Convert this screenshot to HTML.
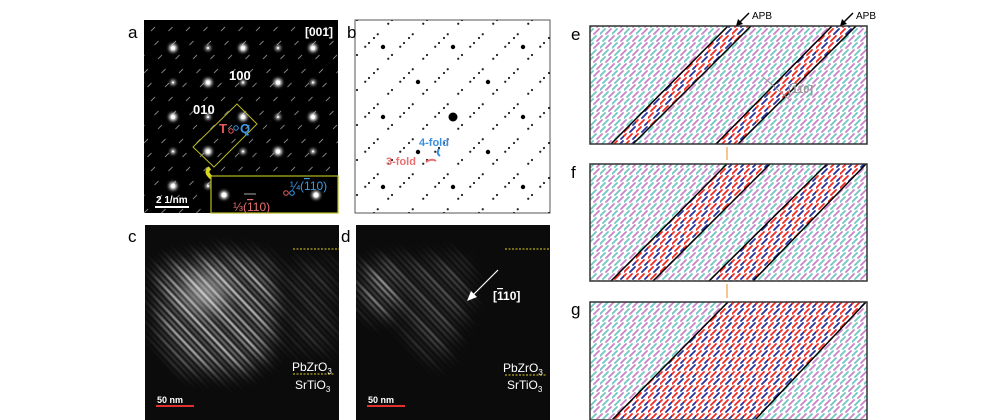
<!DOCTYPE html>
<html><head><meta charset="utf-8"><style>
html,body{margin:0;padding:0;background:#fff;width:1000px;height:420px;overflow:hidden}
svg{display:block}
text{font-family:"Liberation Sans",sans-serif}
</style></head><body>
<svg id="fig" width="1000" height="420" viewBox="0 0 1000 420">
<defs>
 <filter id="glow" x="-1" y="-1" width="3" height="3"><feGaussianBlur stdDeviation="1.6"/></filter>
 <filter id="blur1" filterUnits="userSpaceOnUse" x="0" y="0" width="1000" height="420"><feGaussianBlur stdDeviation="0.8"/></filter>
 <filter id="blur6" filterUnits="userSpaceOnUse" x="0" y="0" width="1000" height="420"><feGaussianBlur stdDeviation="10"/></filter>
 <pattern id="bgArrows" width="12" height="14" patternUnits="userSpaceOnUse">
  <g stroke-width="1.8" stroke-linecap="round">
   <line x1="0" y1="6" x2="5" y2="1" stroke="#70c8c0"/><line x1="6" y1="6" x2="11" y2="1" stroke="#c884c8"/>
   <line x1="-3" y1="13" x2="2" y2="8" stroke="#c884c8"/><line x1="3" y1="13" x2="8" y2="8" stroke="#70c8c0"/><line x1="9" y1="13" x2="14" y2="8" stroke="#c884c8"/>
  </g>
 </pattern>
 <pattern id="bandArrows" width="12" height="14" patternUnits="userSpaceOnUse">
  <g stroke-width="1.8" stroke-linecap="round">
   <line x1="0" y1="6" x2="5" y2="1" stroke="#ee2a24"/><line x1="6" y1="6" x2="11" y2="1" stroke="#28309a"/>
   <line x1="-3" y1="13" x2="2" y2="8" stroke="#ee2a24"/><line x1="3" y1="13" x2="8" y2="8" stroke="#ee2a24"/><line x1="9" y1="13" x2="14" y2="8" stroke="#28309a"/>
  </g>
 </pattern>
 <mask id="maskC" maskUnits="userSpaceOnUse" x="0" y="0" width="1000" height="420">
  <path d="M158,268 L225,255 L268,262 L280,300 L268,355 L240,372 L185,368 L160,335 Z" fill="#fff" filter="url(#blur6)"/>
  <path d="M285,265 L335,260 L335,350 L290,350 Z" fill="#444" filter="url(#blur6)"/>
 </mask>
 <mask id="maskD" maskUnits="userSpaceOnUse" x="0" y="0" width="1000" height="420">
  <path d="M362,268 L395,262 L410,300 L385,318 L362,305 Z" fill="#fff" filter="url(#blur6)"/>
  <path d="M395,262 L465,258 L470,300 L440,365 L410,340 L400,300 Z" fill="#777" filter="url(#blur6)"/>
 </mask>
 <clipPath id="clipC"><rect x="145" y="225" width="194" height="195"/></clipPath>
 <clipPath id="clipD"><rect x="356" y="225" width="194" height="195"/></clipPath>
 <clipPath id="clipA"><rect x="144" y="20" width="194" height="193"/></clipPath>
 <clipPath id="clipB"><rect x="355" y="20" width="195" height="193"/></clipPath>
</defs>

<!-- panel a -->
<g>
 <rect x="144" y="20" width="194" height="193" fill="#000"/>
 <g id="aStreaks" clip-path="url(#clipA)"></g>
 <g id="aSpots" clip-path="url(#clipA)"></g>
 <polygon points="237,104 257,124 214,167 193,147" fill="none" stroke="#b8b820" stroke-width="1"/>
 <text x="219" y="133" fill="#e85a5a" font-size="13" font-weight="bold">T</text>
 <circle cx="231" cy="131" r="2.2" fill="none" stroke="#e85a5a"/>
 <circle cx="236" cy="128" r="2.2" fill="none" stroke="#3a9ae8"/>
 <text x="240" y="133" fill="#3a9ae8" font-size="13" font-weight="bold">Q</text>
 <text x="229" y="80" fill="#fff" font-size="13" font-weight="bold">100</text>
 <text x="193" y="114" fill="#fff" font-size="13" font-weight="bold">010</text>
 <text x="305" y="36" fill="#fff" font-size="12" font-weight="bold">[001]</text>
 <path d="M210,168 q-6,4 2,10" stroke="#d8d820" stroke-width="4" fill="none"/>
 <rect x="211" y="176" width="127" height="37" fill="#000" stroke="#b8b820" stroke-width="1.2"/>
 <circle cx="224" cy="195" r="4" fill="#fff" filter="url(#glow)"/><circle cx="224" cy="195" r="2.5" fill="#fff"/>
 <circle cx="316" cy="195" r="4" fill="#fff" filter="url(#glow)"/><circle cx="316" cy="195" r="2.5" fill="#fff"/>
 <line x1="244" y1="194" x2="256" y2="194" stroke="#aaa" stroke-width="1"/>
 <circle cx="286" cy="193" r="2.3" fill="none" stroke="#e85a5a"/><circle cx="292" cy="193" r="2.3" fill="none" stroke="#3a9ae8"/>
 <text x="233" y="211" fill="#e87070" font-size="12">⅓(<tspan text-decoration="overline">1</tspan>10)</text>
 <text x="290" y="190" fill="#3a9ae8" font-size="12">¼(<tspan text-decoration="overline">1</tspan>10)</text>
 <text x="156" y="203" fill="#fff" font-size="10" font-weight="bold" font-family="Liberation Serif">2 1/nm</text>
 <rect x="155" y="206" width="34" height="2" fill="#fff"/>
</g>
<text x="128" y="38" font-size="17">a</text>

<!-- panel b -->
<g>
 <rect x="355" y="20" width="195" height="193" fill="#fff" stroke="#555" stroke-width="1"/>
 <g id="bSpots" clip-path="url(#clipB)"></g>
 <circle cx="453" cy="117" r="4.5" fill="#000"/>
 <text x="419" y="146" fill="#3a8ee0" font-size="11" font-weight="bold">4-fold</text>
 <text x="386" y="165" fill="#e87070" font-size="11" font-weight="bold">3-fold</text>
 <path d="M440,156 q-4,-3 -1,-7" stroke="#3a8ee0" stroke-width="2" fill="none"/>
 <path d="M436,161 q-4,-3 -10,1" stroke="#e87070" stroke-width="2" fill="none"/>
</g>
<text x="347" y="38" font-size="17">b</text>

<!-- panel c -->
<g>
 <rect x="145" y="225" width="194" height="195" fill="#0b0b0b"/>
 <g clip-path="url(#clipC)">
  <ellipse cx="205" cy="292" rx="22" ry="18" fill="#777" filter="url(#blur6)"/>
  <g mask="url(#maskC)"><g id="cStripes" filter="url(#blur1)"></g></g>
 </g>
 <line x1="293" y1="249" x2="339" y2="249" stroke="#e0d020" stroke-dasharray="2,1.5" stroke-width="1"/>
 <line x1="293" y1="374" x2="335" y2="374" stroke="#e0d020" stroke-dasharray="2,1.5" stroke-width="1"/>
 <text x="292" y="371" fill="#fff" font-size="12">PbZrO<tspan font-size="8" dy="3">3</tspan></text>
 <text x="295" y="389" fill="#fff" font-size="12">SrTiO<tspan font-size="8" dy="3">3</tspan></text>
 <text x="157" y="403" fill="#fff" font-size="9" font-weight="bold" font-family="Liberation Serif">50 nm</text>
 <rect x="156" y="405" width="38" height="2" fill="#e03030"/>
</g>
<text x="128" y="242" font-size="17">c</text>

<!-- panel d -->
<g>
 <rect x="356" y="225" width="194" height="195" fill="#0b0b0b"/>
 <g clip-path="url(#clipD)">
  <g mask="url(#maskD)"><g id="dStripes" filter="url(#blur1)"></g></g>
 </g>
 <line x1="505" y1="249" x2="550" y2="249" stroke="#e0d020" stroke-dasharray="2,1.5" stroke-width="1"/>
 <line x1="505" y1="375" x2="547" y2="375" stroke="#e0d020" stroke-dasharray="2,1.5" stroke-width="1"/>
 <line x1="498" y1="270" x2="470" y2="298" stroke="#fff" stroke-width="1.2"/>
 <polygon points="467,301 471,291 477,297" fill="#fff"/>
 <text x="493" y="300" fill="#fff" font-size="12" font-weight="bold">[<tspan text-decoration="overline">1</tspan>10]</text>
 <text x="503" y="372" fill="#fff" font-size="12">PbZrO<tspan font-size="8" dy="3">3</tspan></text>
 <text x="507" y="389" fill="#fff" font-size="12">SrTiO<tspan font-size="8" dy="3">3</tspan></text>
 <text x="368" y="403" fill="#fff" font-size="9" font-weight="bold" font-family="Liberation Serif">50 nm</text>
 <rect x="367" y="405" width="38" height="2" fill="#e03030"/>
</g>
<text x="341" y="242" font-size="17">d</text>

<!-- panels e f g -->
<g id="domains"></g>
<text x="571" y="40" font-size="17">e</text>
<text x="571" y="178" font-size="17">f</text>
<text x="571" y="315" font-size="17">g</text>
<g>
 <text x="752" y="19" font-size="10" font-family="Liberation Serif">APB</text>
 <text x="856" y="19" font-size="10" font-family="Liberation Serif">APB</text>
 <line x1="749" y1="13" x2="739" y2="23" stroke="#000" stroke-width="1.5"/><polygon points="736,26 738,19 743,24" fill="#000"/>
 <line x1="853" y1="13" x2="843" y2="23" stroke="#000" stroke-width="1.5"/><polygon points="840,26 842,19 847,24" fill="#000"/>
 <line x1="763" y1="77" x2="791" y2="101" stroke="#999" stroke-width="1"/>
 <text x="788" y="93" fill="#999" font-size="11" font-family="Liberation Serif" font-weight="bold">[<tspan text-decoration="overline">1</tspan>10]</text>
 <line x1="727" y1="147" x2="727" y2="160" stroke="#f0a040" stroke-width="1.2"/>
 <line x1="727" y1="284" x2="727" y2="298" stroke="#f0a040" stroke-width="1.2"/>
</g>
</svg>
<script>
const NS="http://www.w3.org/2000/svg";
function mk(tag,attrs,parent){const e=document.createElementNS(NS,tag);for(const k in attrs)e.setAttribute(k,attrs[k]);parent.appendChild(e);return e;}
const latticeCols=[-1,0,1,2,3,4,5,6];
const latticeRows=[-1,0,1,2,3,4,5];
// panel a
const aSp=document.getElementById('aSpots'),aSt=document.getElementById('aStreaks');
latticeCols.forEach(i=>latticeRows.forEach(j=>{
 const x=173+35*i,y=48+34.5*j,big=(i+j)%2===0;
 const g=mk('circle',{cx:x,cy:y,r:big?4:2.5,fill:'#fff',filter:'url(#glow)'},aSp);
 
 
 mk('circle',{cx:x,cy:y,r:big?2:1,fill:'#fff'},aSp);
}));
for(let k=-12;k<14;k++){for(let t=0;t<16;t++){
 const x0=144+k*17.5+t*14,y0=213-t*14;
 mk('line',{x1:x0,y1:y0,x2:x0+4,y2:y0-4,stroke:'#bbb','stroke-width':0.9,opacity:0.7},aSt);
}}
// panel b
const bSp=document.getElementById('bSpots');
latticeCols.forEach(i=>latticeRows.forEach(j=>{
 const x=383+35*i,y=47+35*j;
 if((i+j)%2===0){const c=mk('circle',{cx:x,cy:y,r:2.2,fill:'#000'},bSp);
  
  }
 for(const d of [[7,-7],[12,-12],[-7,7],[-12,12],[23,-23],[28,-28]]){
  mk('circle',{cx:x+d[0]*0.75,cy:y+d[1]*0.75+17,r:1.1,fill:'#222'},bSp);
 }
}));
// long diagonal stripes ("\" direction), masked to bright region
function stripes(id,x0,y0,n,col,opFn){const g=document.getElementById(id);
 for(let k=0;k<n;k++){const x=x0+k*6.5,y=y0;
  const l=mk('line',{x1:x,y1:y,x2:x+180,y2:y+190,stroke:col,'stroke-width':2.6,opacity:opFn(k)},g);
  
  }}
stripes('cStripes',0,230,48,'#f0f0f0',k=>0.3+0.6*((k*7)%5)/5);
stripes('dStripes',210,230,46,'#f0f0f0',k=>0.25+0.6*((k*5)%4)/4);
// domain panels
const panelTops=[26,164,302],panelBots=[144,281,420];
const panelBands=[[[611,633,728,751],[716,738,832,856]],[[611,653,727,770],[709,753,827,866]],[[612,755,728,866]]];
const dom=document.getElementById('domains');
['e','f','g'].forEach((nm,p)=>{
 const t=panelTops[p],b=Math.min(panelBots[p],419);
 const g=mk('g',{},dom);
 
 
 const cid='cl'+nm;const cp=mk('clipPath',{id:cid},document.querySelector('defs'));
 mk('rect',{x:590,y:t,width:277,height:b-t},cp);
 mk('rect',{x:590,y:t,width:277,height:b-t,fill:'#fff'},g);
 mk('rect',{x:590,y:t,width:277,height:b-t,fill:'url(#bgArrows)'},g);
 const inner=mk('g',{'clip-path':'url(#'+cid+')'},g);
 panelBands[p].forEach(bd=>{
  const yb=panelBots[p];
  const poly=mk('polygon',{points:`${bd[0]},${yb} ${bd[1]},${yb} ${bd[3]},${t} ${bd[2]},${t}`,fill:'#fff'},inner);
  
  
  mk('polygon',{points:`${bd[0]},${yb} ${bd[1]},${yb} ${bd[3]},${t} ${bd[2]},${t}`,fill:'url(#bandArrows)'},inner);
  mk('line',{x1:bd[0],y1:yb,x2:bd[2],y2:t,stroke:'#000','stroke-width':1.5},inner);
  mk('line',{x1:bd[1],y1:yb,x2:bd[3],y2:t,stroke:'#000','stroke-width':1.5},inner);
 });
 mk('rect',{x:590,y:t,width:277,height:panelBots[p]-t,fill:'none',stroke:'#333','stroke-width':1.5},g);
});
</script>
</body></html>
